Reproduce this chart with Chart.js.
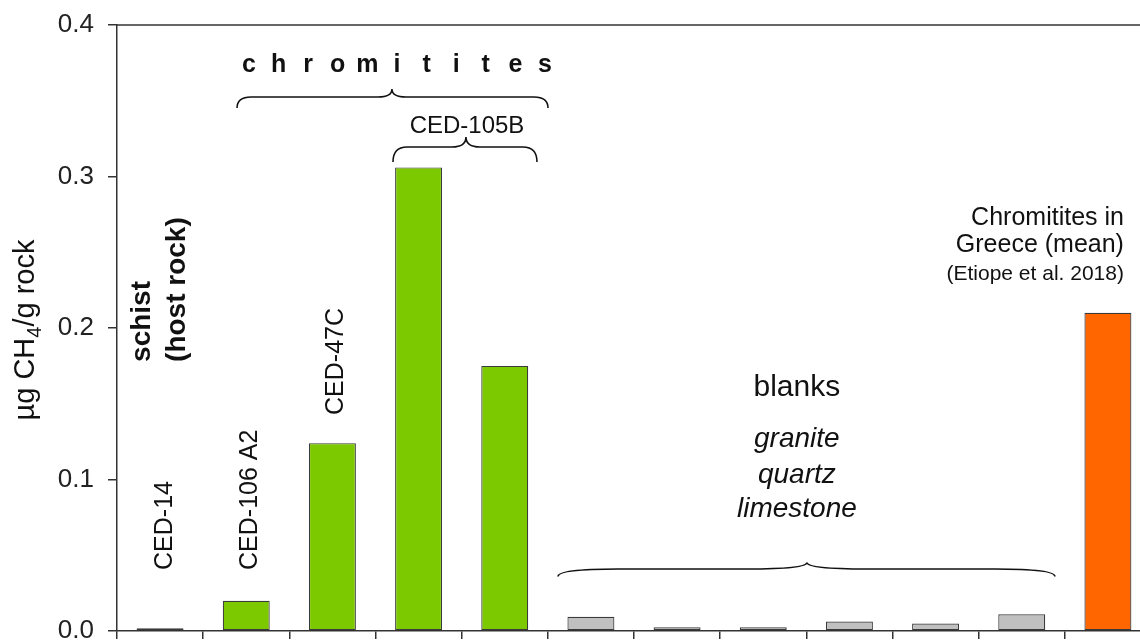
<!DOCTYPE html>
<html><head><meta charset="utf-8">
<script src="https://cdn.jsdelivr.net/npm/chart.js@4"></script>
<style>
html,body{margin:0;padding:0;background:#fff;overflow:hidden;width:1140px;height:641px;}
#wrap{width:1160px;height:641px;}
</style></head>
<body><div id="wrap"><canvas id="c" width="1160" height="641"></canvas></div>
<script>
const categories = ["CED-14","CED-106 A2","CED-47C","CED-105B a","CED-105B b","granite 1","quartz 1","limestone 1","granite 2","quartz 2","limestone 2","Greece mean"];
const values = [0.0018, 0.020, 0.124, 0.306, 0.175, 0.0094, 0.0025, 0.0025, 0.0063, 0.0050, 0.0110, 0.210];
const groups = ["schist","chromitite","chromitite","chromitite","chromitite","blank","blank","blank","blank","blank","blank","greece"];
const yTicks = [0.0, 0.1, 0.2, 0.3, 0.4];
const groupColors = {schist:"#7DC900", chromitite:"#7DC900", blank:"#C0C0C0", greece:"#FF6600"};
const FONT = "'Liberation Sans', Arial, sans-serif";

const ann = {
  id:'ann',
  afterDraw(chart){
    const {ctx, chartArea:a, scales:{x,y}} = chart;
    const X = i => x.getPixelForValue(i);
    const Y = v => y.getPixelForValue(v);
    ctx.save();
    // top frame line
    ctx.strokeStyle = '#333'; ctx.lineWidth = 1.5;
    ctx.beginPath(); ctx.moveTo(a.left, a.top); ctx.lineTo(a.right, a.top); ctx.stroke();

    ctx.fillStyle = '#111';
    function rotText(t, bx, by, font){
      ctx.save(); ctx.translate(bx, by); ctx.rotate(-Math.PI/2);
      ctx.font = font; ctx.textAlign = 'left'; ctx.textBaseline = 'alphabetic';
      ctx.fillText(t, 0, 0); ctx.restore();
    }
    function brace(x1, x2, xm, yl, ytip, yend, r){
      ctx.beginPath();
      ctx.moveTo(x1, yend);
      ctx.quadraticCurveTo(x1, yl, x1 + r, yl);
      ctx.lineTo(xm - r, yl);
      ctx.quadraticCurveTo(xm, yl, xm, ytip);
      ctx.quadraticCurveTo(xm, yl, xm + r, yl);
      ctx.lineTo(x2 - r, yl);
      ctx.quadraticCurveTo(x2, yl, x2, yend);
      ctx.stroke();
    }
    ctx.strokeStyle = '#111'; ctx.lineWidth = 1.6;

    // chromitites title (spaced letters)
    ctx.font = 'bold 25px ' + FONT; ctx.textAlign = 'center'; ctx.textBaseline = 'alphabetic';
    const word = 'chromitites';
    const cx = X(2.749), step = 29.6;
    for (let i = 0; i < word.length; i++) ctx.fillText(word[i], cx + (i - 5) * step, Y(0.369));
    brace(X(0.893), X(4.502), X(2.691), Y(0.3525), Y(0.3578), Y(0.3452), 14);

    // CED-105B
    ctx.font = '24px ' + FONT;
    ctx.fillText('CED-105B', X(3.562), Y(0.3287));
    brace(X(2.703), X(4.374), X(3.550), Y(0.3195), Y(0.3261), Y(0.3096), 14);

    // schist (host rock)
    rotText('schist', X(-0.117), Y(0.1776), 'bold 28px ' + FONT);
    rotText('(host rock)', X(0.289), Y(0.1776), 'bold 28px ' + FONT);

    // category labels
    rotText('CED-14', X(0.138), Y(0.0403), '25px ' + FONT);
    rotText('CED-106 A2', X(1.125), Y(0.0403), '25px ' + FONT);
    rotText('CED-47C', X(2.123), Y(0.1426), '25px ' + FONT);

    // blanks
    ctx.textAlign = 'center';
    ctx.font = '30px ' + FONT;
    ctx.fillText('blanks', X(7.39), Y(0.1551));
    ctx.font = 'italic 28px ' + FONT;
    ctx.fillText('granite', X(7.39), Y(0.1215));
    ctx.fillText('quartz', X(7.39), Y(0.0977));
    ctx.fillText('limestone', X(7.39), Y(0.0752));
    brace(X(4.618), X(10.385), X(7.507), Y(0.0409), Y(0.0452), Y(0.0360), 60);

    // Greece
    ctx.textAlign = 'right';
    ctx.font = '25px ' + FONT;
    ctx.fillText('Chromitites in', X(11.186), Y(0.268));
    ctx.fillText('Greece (mean)', X(11.186), Y(0.2502));
    ctx.font = '21px ' + FONT;
    ctx.fillText('(Etiope et al. 2018)', X(11.186), Y(0.2317));

    // y title with subscript
    ctx.save();
    ctx.translate(34, 330); ctx.rotate(-Math.PI/2);
    ctx.textAlign = 'left';
    const big = '29px ' + FONT, small = '20px ' + FONT;
    ctx.font = big; const w1 = ctx.measureText('\u00B5g CH').width; const w3 = ctx.measureText('/g rock').width;
    ctx.font = small; const w2 = ctx.measureText('4').width;
    let sx = -(w1 + w2 + w3) / 2;
    ctx.font = big; ctx.fillText('\u00B5g CH', sx, 0); sx += w1;
    ctx.font = small; ctx.fillText('4', sx, 7); sx += w2;
    ctx.font = big; ctx.fillText('/g rock', sx, 0);
    ctx.restore();

    ctx.restore();
  }
};

new Chart(document.getElementById('c'), {
  type: 'bar',
  data: {
    labels: categories,
    datasets: [{
      data: values,
      backgroundColor: groups.map(g => groupColors[g]),
      borderColor: '#3a3a3a',
      borderWidth: 1.2,
      borderSkipped: false,
      barPercentage: 0.545,
      categoryPercentage: 1.0
    }]
  },
  options: {
    responsive: false,
    animation: false,
    events: [],
    layout: { padding: { top: 25, right: 9, left: 0, bottom: 0 } },
    plugins: { legend: { display: false }, tooltip: { enabled: false }, title: { display: false } },
    scales: {
      x: {
        offset: true,
        grid: { offset: true, drawOnChartArea: false, drawTicks: true, tickLength: 8, color: '#333', lineWidth: 1.5 },
        border: { display: true, color: '#333', width: 1.5 },
        ticks: { display: false },
        afterFit: s => { s.height = 10; s.paddingLeft = 0; s.paddingRight = 0; }
      },
      y: {
        min: 0, max: 0.4,
        afterBuildTicks: s => { s.ticks = yTicks.map(v => ({ value: v })); },
        grid: { drawOnChartArea: false, drawTicks: true, tickLength: 9, color: '#333', lineWidth: 1.5 },
        border: { display: true, color: '#333', width: 1.5 },
        ticks: { padding: 14, color: '#222', font: { size: 26, family: FONT }, callback: v => Number(v).toFixed(1) },
        afterFit: s => { s.width = 117; s.paddingTop = 0; s.paddingBottom = 0; }
      }
    }
  },
  plugins: [ann]
});
</script></body></html>
